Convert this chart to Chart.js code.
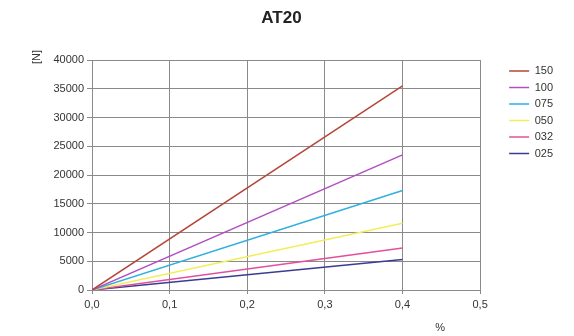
<!DOCTYPE html>
<html>
<head>
<meta charset="utf-8">
<script src="https://cdn.jsdelivr.net/npm/chart.js@4/dist/chart.umd.min.js"></script>
<style>
  body { margin: 0; background: #fff; }
  #wrap { width: 574px; height: 336px; }
</style>
</head>
<body>
<div id="wrap"><canvas id="at20Chart" width="574" height="336"></canvas></div>
<script>
// elongation points (%) and force values [N]
const strainPoints = [0, 0.4];
const seriesNames = ['150', '100', '075', '050', '032', '025'];
const force150 = [0, 35500];
const force100 = [0, 23500];
const force075 = [0, 17300];
const force050 = [0, 11600];
const force032 = [0, 7300];
const force025 = [0, 5300];
const xTicks = [0, 0.1, 0.2, 0.3, 0.4, 0.5];
const yTicks = [0, 5000, 10000, 15000, 20000, 25000, 30000, 35000, 40000];

const seriesValues = [force150, force100, force075, force050, force032, force025];
const seriesColors = ['#b4473a', '#b24fc2', '#2fb0df', '#f2ee5a', '#e2509c', '#3b3b92'];

const gridColor = '#8a8a8a';
const labelFont = { family: '"Liberation Sans", Arial, sans-serif', size: 11 };

// axis titles sit off-centre in the original, so they're drawn by hand
const axisTitles = {
    id: 'axisTitles',
    afterDraw(chart) {
        const { ctx, chartArea } = chart;
        ctx.save();
        ctx.fillStyle = '#333';
        ctx.font = '11px "Liberation Sans", Arial, sans-serif';
        ctx.textAlign = 'center';
        ctx.textBaseline = 'middle';
        ctx.fillText('%', chartArea.right - 40, 328);
        ctx.translate(37, 57);
        ctx.rotate(-Math.PI / 2);
        ctx.fillText('[N]', 0, 0);
        ctx.restore();
    }
};

const datasets = seriesNames.map((name, i) => ({
    label: name,
    data: strainPoints.map((x, j) => ({ x: x, y: seriesValues[i][j] })),
    borderColor: seriesColors[i],
    backgroundColor: seriesColors[i],
    borderWidth: 1.5,
    pointRadius: 0,
    fill: false,
    tension: 0
}));

new Chart(document.getElementById('at20Chart'), {
    type: 'line',
    data: { datasets: datasets },
    options: {
        responsive: false,
        animation: false,
        layout: { padding: { right: 11 } },
        plugins: {
            title: {
                display: true,
                text: 'AT20',
                color: '#222',
                font: { family: '"Liberation Sans", Arial, sans-serif', size: 17, weight: 'bold' },
                padding: { top: 8, bottom: 31.6 }
            },
            legend: {
                position: 'right',
                align: 'start',
                fullSize: false,
                labels: {
                    usePointStyle: true,
                    pointStyle: 'line',
                    pointStyleWidth: 20,
                    padding: 5.5,
                    color: '#333',
                    font: labelFont
                }
            },
            tooltip: { enabled: false }
        },
        scales: {
            x: {
                type: 'linear',
                min: 0,
                max: 0.5,
                afterFit(s) { s.height = 46; },
                afterBuildTicks(s) { s.ticks = xTicks.map(v => ({ value: v })); },
                grid: { color: gridColor, tickLength: 4, lineWidth: 1 },
                border: { color: gridColor },
                ticks: {
                    color: '#333',
                    font: labelFont,
                    padding: 4,
                    maxRotation: 0,
                    callback: v => v.toFixed(1).replace('.', ',')
                }
            },
            y: {
                type: 'linear',
                min: 0,
                max: 40000,
                afterFit(s) { s.width = 92; },
                afterBuildTicks(s) { s.ticks = yTicks.map(v => ({ value: v })); },
                grid: { color: gridColor, tickLength: 5, lineWidth: 1 },
                border: { color: gridColor },
                ticks: {
                    color: '#333',
                    font: labelFont,
                    padding: 3,
                    callback: v => String(v)
                }
            },
            // empty axis that only keeps the legend away from the plot
            gap: {
                type: 'linear',
                position: 'right',
                afterFit(s) { s.width = 23.5; },
                grid: { display: false },
                border: { display: false },
                ticks: { display: false }
            }
        }
    },
    plugins: [axisTitles]
});
</script>
</body>
</html>
